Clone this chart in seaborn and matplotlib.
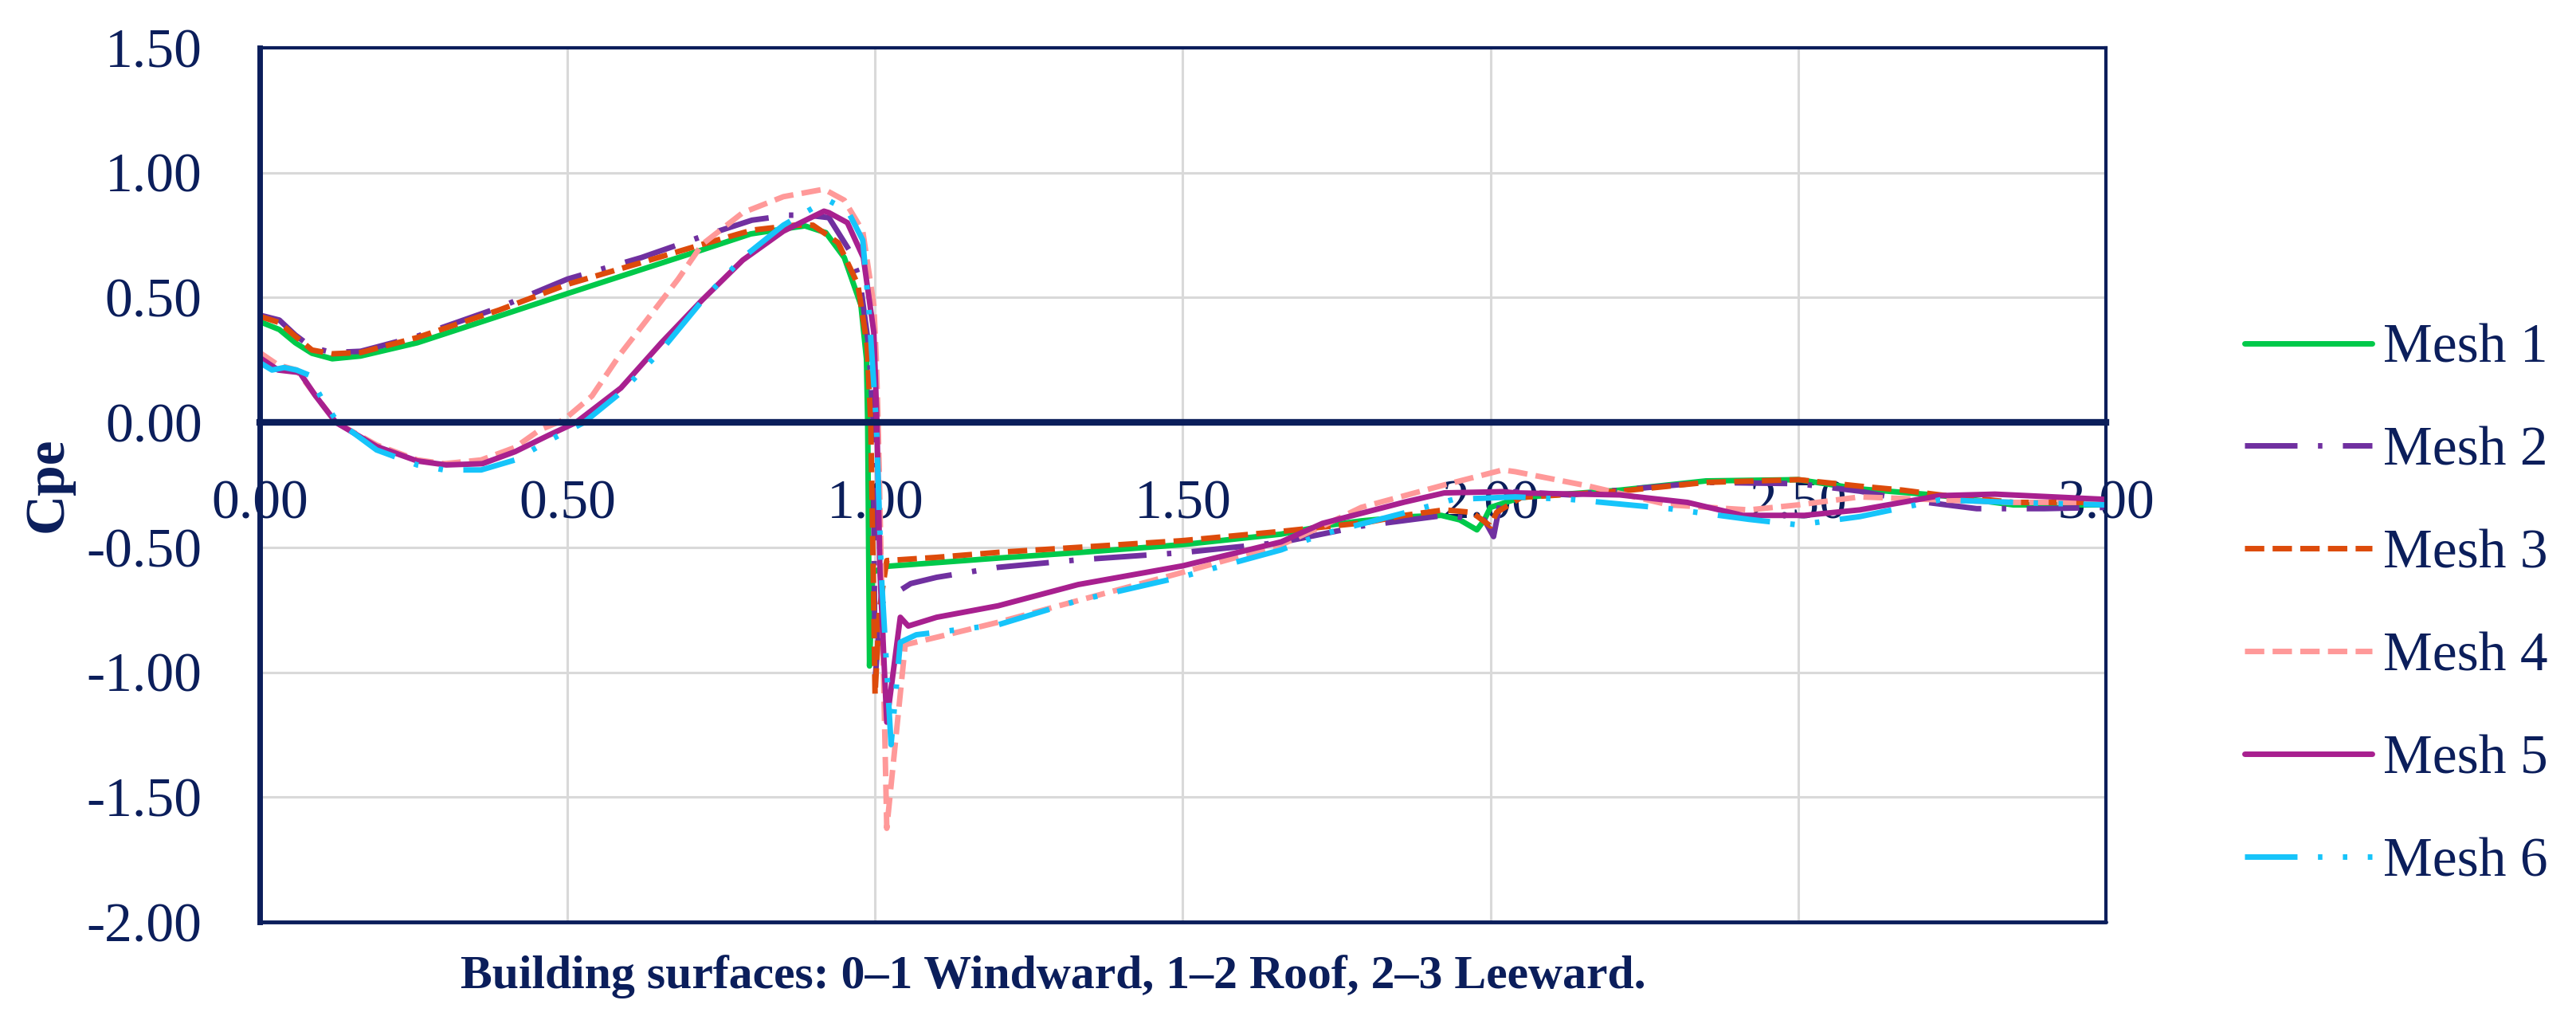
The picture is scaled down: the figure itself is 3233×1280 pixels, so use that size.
import matplotlib
matplotlib.use("Agg")
import matplotlib.pyplot as plt
import seaborn as sns
import pandas as pd
from matplotlib.ticker import MultipleLocator, FormatStrFormatter

# values
mesh_names = ['Mesh 1', 'Mesh 2', 'Mesh 3', 'Mesh 4', 'Mesh 5', 'Mesh 6']

x_m1 = [0.00, 0.032, 0.058, 0.085, 0.118, 0.164, 0.256, 0.389, 0.50, 0.62, 0.719, 0.798, 0.871, 0.886,
        0.92, 0.95, 0.977, 0.986, 0.988, 0.991, 0.996, 1.019, 1.20, 1.33, 1.50, 1.66, 1.727, 1.79, 1.86,
        1.92, 1.95, 1.978, 1.99, 2.00, 2.05, 2.21, 2.35, 2.50, 2.60, 2.73, 2.85, 3.00]
cp_m1 = [0.404, 0.372, 0.319, 0.277, 0.255, 0.266, 0.319, 0.426, 0.516, 0.612, 0.691, 0.755, 0.782, 0.787,
         0.76, 0.66, 0.47, 0.255, 0.0, -0.975, -0.60, -0.576, -0.543, -0.521, -0.489, -0.447, -0.415, -0.394, -0.378,
         -0.372, -0.39, -0.43, -0.39, -0.34, -0.30, -0.271, -0.234, -0.229, -0.266, -0.292, -0.33, -0.33]

x_m2 = [0.00, 0.032, 0.058, 0.085, 0.118, 0.164, 0.256, 0.389, 0.50, 0.62, 0.719, 0.80, 0.86, 0.89,
        0.925, 0.958, 0.975, 0.99, 0.997, 1.00, 1.01, 1.058, 1.10, 1.20, 1.33, 1.50, 1.66, 1.79, 1.925,
        1.99, 2.005, 2.015, 2.04, 2.13, 2.23, 2.35, 2.50, 2.60, 2.67, 2.79, 2.90, 3.00]
cp_m2 = [0.43, 0.41, 0.35, 0.30, 0.28, 0.285, 0.345, 0.46, 0.574, 0.66, 0.745, 0.81, 0.83, 0.83,
         0.82, 0.69, 0.575, 0.30, 0.0, -1.03, -0.72, -0.645, -0.62, -0.58, -0.55, -0.521, -0.48, -0.415, -0.372,
         -0.39, -0.457, -0.33, -0.277, -0.29, -0.266, -0.24, -0.245, -0.275, -0.308, -0.345, -0.345, -0.34]

x_m3 = [0.00, 0.032, 0.058, 0.085, 0.118, 0.164, 0.256, 0.389, 0.50, 0.62, 0.719, 0.80, 0.87, 0.899,
        0.94, 0.972, 0.987, 0.993, 0.997, 1.00, 1.007, 1.019, 1.10, 1.20, 1.33, 1.50, 1.66, 1.80, 1.86,
        1.925, 1.97, 2.00, 2.01, 2.05, 2.21, 2.35, 2.50, 2.60, 2.67, 2.73, 2.85, 3.00]
cp_m3 = [0.425, 0.40, 0.345, 0.29, 0.275, 0.28, 0.34, 0.45, 0.553, 0.64, 0.713, 0.77, 0.79, 0.79,
         0.72, 0.553, 0.31, 0.0, -0.6, -1.09, -0.75, -0.553, -0.54, -0.52, -0.50, -0.473, -0.436, -0.40, -0.372,
         -0.35, -0.36, -0.415, -0.36, -0.30, -0.275, -0.24, -0.229, -0.255, -0.271, -0.29, -0.32, -0.32]

x_m4 = [0.00, 0.03, 0.06, 0.09, 0.124, 0.19, 0.256, 0.30, 0.36, 0.415, 0.455, 0.494, 0.54, 0.587,
        0.627, 0.68, 0.719, 0.785, 0.851, 0.917, 0.95, 0.98, 0.998, 1.002, 1.005, 1.012, 1.019, 1.049, 1.10,
        1.20, 1.33, 1.50, 1.66, 1.727, 1.79, 1.925, 2.02, 2.04, 2.16, 2.29, 2.42, 2.50, 2.60, 2.73, 2.85, 3.00]
cp_m4 = [0.28, 0.23, 0.21, 0.11, 0.0, -0.09, -0.15, -0.165, -0.15, -0.10, -0.03, 0.01, 0.106, 0.277,
         0.404, 0.574, 0.713, 0.84, 0.904, 0.934, 0.89, 0.766, 0.47, 0.255, 0.0, -0.8, -1.625, -0.89, -0.86,
         -0.80, -0.713, -0.60, -0.49, -0.415, -0.34, -0.25, -0.19, -0.197, -0.255, -0.33, -0.35, -0.33, -0.298, -0.31, -0.32, -0.32]

x_m5 = [0.00, 0.03, 0.065, 0.091, 0.124, 0.19, 0.256, 0.303, 0.362, 0.415, 0.468, 0.514, 0.587, 0.653,
        0.719, 0.785, 0.851, 0.917, 0.925, 0.955, 0.981, 0.998, 1.003, 1.008, 1.019, 1.041, 1.054, 1.10,
        1.20, 1.33, 1.50, 1.66, 1.727, 1.86, 1.925, 2.02, 2.04, 2.21, 2.32, 2.41, 2.51, 2.60, 2.73, 2.82, 3.00]
cp_m5 = [0.26, 0.21, 0.20, 0.106, 0.0, -0.096, -0.154, -0.17, -0.165, -0.117, -0.053, 0.0, 0.138, 0.32,
         0.49, 0.65, 0.766, 0.846, 0.84, 0.80, 0.66, 0.36, 0.0, -0.6, -1.20, -0.78, -0.815, -0.78,
         -0.734, -0.649, -0.574, -0.478, -0.404, -0.319, -0.282, -0.277, -0.282, -0.29, -0.32, -0.372, -0.372, -0.35, -0.293, -0.287, -0.308]

x_m6 = [0.00, 0.02, 0.04, 0.06, 0.08, 0.10, 0.124, 0.19, 0.256, 0.30, 0.36, 0.415, 0.468, 0.527,
        0.587, 0.653, 0.72, 0.785, 0.851, 0.90, 0.925, 0.955, 0.98, 0.99, 1.002, 1.01, 1.026, 1.041, 1.067,
        1.20, 1.33, 1.50, 1.66, 1.727, 1.86, 1.94, 2.04, 2.13, 2.29, 2.42, 2.50, 2.60, 2.73, 2.85, 3.00]
cp_m6 = [0.24, 0.21, 0.22, 0.21, 0.19, 0.10, 0.01, -0.11, -0.17, -0.19, -0.19, -0.15, -0.075, 0.0,
         0.12, 0.29, 0.49, 0.66, 0.79, 0.86, 0.888, 0.85, 0.73, 0.45, 0.0, -0.6, -1.29, -0.88, -0.85,
         -0.81, -0.713, -0.617, -0.51, -0.447, -0.362, -0.308, -0.298, -0.308, -0.345, -0.388, -0.41, -0.377, -0.31, -0.32, -0.33]

x_lists = [x_m1, x_m2, x_m3, x_m4, x_m5, x_m6]
cp_lists = [cp_m1, cp_m2, cp_m3, cp_m4, cp_m5, cp_m6]

df = pd.concat([pd.DataFrame({'Mesh': n, 'x': xs, 'Cpe': ys})
                for n, xs, ys in zip(mesh_names, x_lists, cp_lists)], ignore_index=True)

# styles
navy = '#0B1E5B'
colors = ['#00C94A', '#7030A0', '#DD4B0B', '#FF9999', '#A8208F', '#16C4FA']
styles = ['-', (0, (9.5, 3.7, 0.8, 3.7)), (0, (3.5, 1.5)), (0, (3.5, 1.5)), '-',
          (0, (9.5, 3.7, 0.8, 3.7, 0.8, 3.7))]

sns.set_style('white')
plt.rcParams['font.family'] = ['Liberation Serif', 'DejaVu Serif']
plt.rcParams['axes.unicode_minus'] = False

fig = plt.figure(figsize=(32.33, 12.8), dpi=100)
ax = fig.add_axes([0.1008, 0.0961, 0.7167, 0.857])

for name, c, ls in zip(mesh_names, colors, styles):
    sns.lineplot(data=df[df['Mesh'] == name], x='x', y='Cpe', sort=False, estimator=None,
                 color=c, linestyle=ls, linewidth=5, label=name, ax=ax)

ax.set_xlim(0, 3)
ax.set_ylim(-2, 1.5)
ax.xaxis.set_major_locator(MultipleLocator(0.5))
ax.yaxis.set_major_locator(MultipleLocator(0.5))
ax.xaxis.set_major_formatter(FormatStrFormatter('%.2f'))
ax.yaxis.set_major_formatter(FormatStrFormatter('%.2f'))

ax.grid(True, color='#D9D9D9', linewidth=2.2)
ax.set_axisbelow(True)

# x axis sits at zero like the Excel chart
ax.spines['bottom'].set_position(('data', 0))
ax.spines['bottom'].set_linewidth(6)
ax.spines['left'].set_linewidth(5)
for s in ['top', 'right']:
    ax.spines[s].set_linewidth(3)
for s in ax.spines.values():
    s.set_color(navy)
ax.axhline(-2.0, color=navy, linewidth=3.5, clip_on=False, zorder=5)

ax.tick_params(axis='x', direction='in', length=17, width=3.5, color=navy, pad=52,
               labelsize=50, labelcolor=navy)
ax.tick_params(axis='y', direction='in', length=14, width=4, color=navy, pad=52,
               labelsize=50, labelcolor=navy)

ax.set_xlabel('')
ax.set_ylabel('')
fig.text(0.409, 0.03125, 'Building surfaces: 0\u20131 Windward, 1\u20132 Roof, 2\u20133 Leeward.',
         ha='center', va='baseline', fontsize=43, fontweight='bold', color=navy)
fig.text(0.0189, 0.525, 'Cpe', rotation=90, ha='center', va='center',
         fontsize=50, fontweight='bold', color=navy)

ax.legend(loc='center left', bbox_to_anchor=(0.8713, 0.406), bbox_transform=fig.transFigure,
          frameon=False, fontsize=50, handlelength=2.3, handletextpad=0.2, labelspacing=0.94,
          borderpad=0, borderaxespad=0, labelcolor=navy)

fig.savefig('out.png', dpi=100)
